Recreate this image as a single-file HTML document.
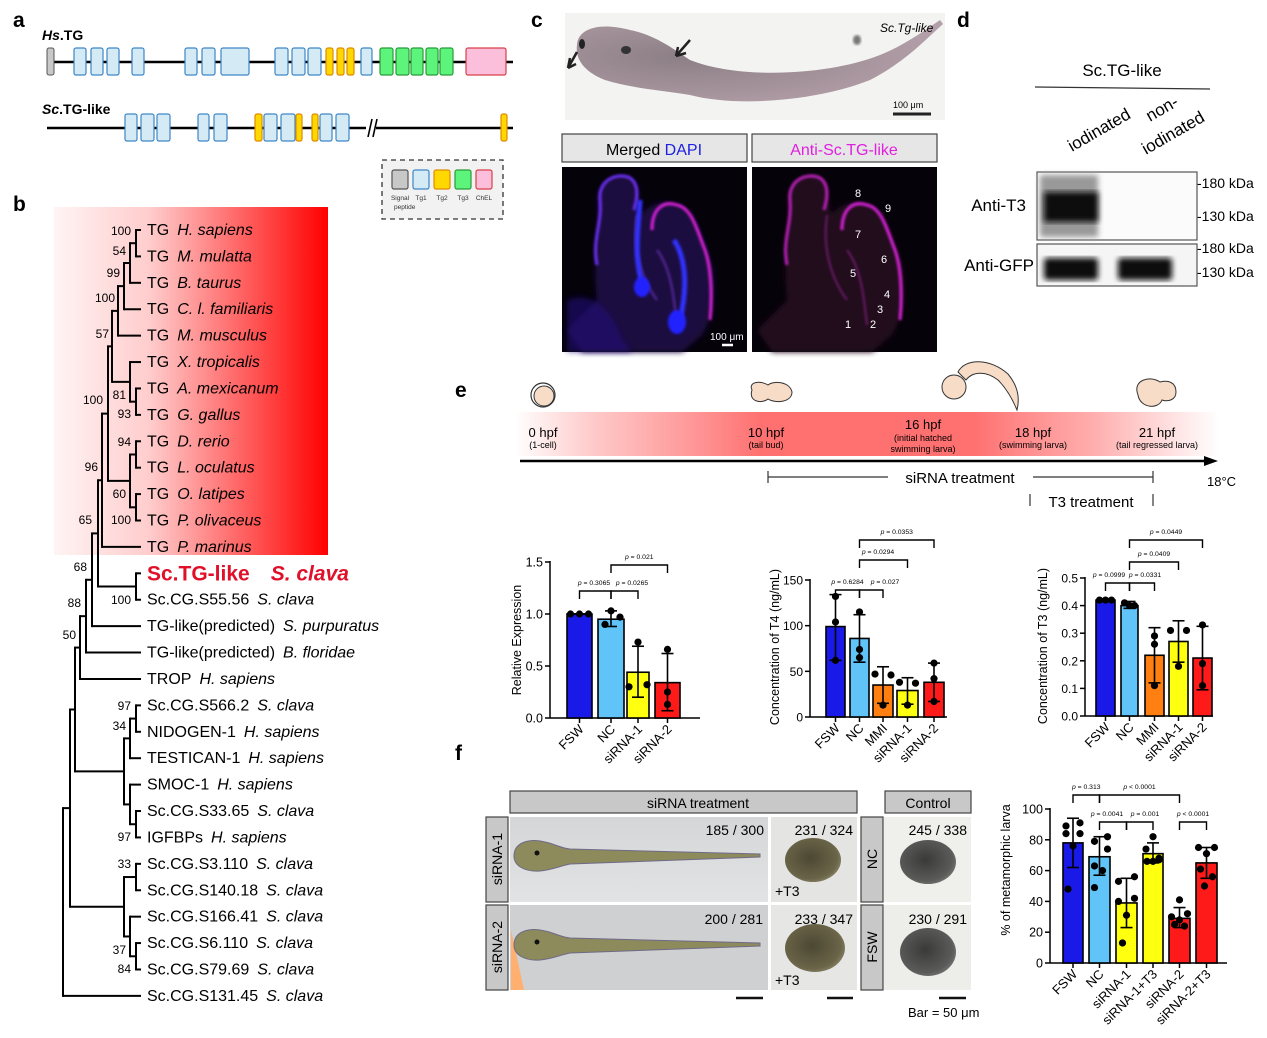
<!DOCTYPE html>
<html><head><meta charset="utf-8">
<style>
html,body{margin:0;padding:0;background:#fff;}
svg{display:block;font-family:"Liberation Sans",Arial,sans-serif;}
</style></head>
<body>
<svg id="s" width="1267" height="1038" viewBox="0 0 1267 1038" xmlns="http://www.w3.org/2000/svg">
<defs>
<linearGradient id="redg" x1="0" x2="1" y1="0" y2="0">
<stop offset="0" stop-color="#fff4f4"/><stop offset="0.35" stop-color="#ffcccc"/><stop offset="1" stop-color="#ff0000"/></linearGradient>
<linearGradient id="tl" x1="0" x2="1" y1="0" y2="0">
<stop offset="0" stop-color="#ff7878" stop-opacity="0"/><stop offset="0.12" stop-color="#ff8080" stop-opacity="0.45"/><stop offset="0.35" stop-color="#ff7070"/><stop offset="0.65" stop-color="#ff7070"/><stop offset="0.82" stop-color="#ff8a8a" stop-opacity="0.7"/><stop offset="1" stop-color="#ff9090" stop-opacity="0"/></linearGradient>
<radialGradient id="larv" cx="0.3" cy="0.45" r="0.7"><stop offset="0" stop-color="#7a6a72"/><stop offset="1" stop-color="#a8909c"/></radialGradient>
<linearGradient id="bg1" x1="0" x2="0" y1="0" y2="1"><stop offset="0" stop-color="#d4d6d8"/><stop offset="1" stop-color="#e2e3e4"/></linearGradient>
<radialGradient id="eggc" cx="0.45" cy="0.45" r="0.6"><stop offset="0" stop-color="#4c4832"/><stop offset="0.8" stop-color="#6a6448"/><stop offset="1" stop-color="#8a8468"/></radialGradient>
<radialGradient id="eggd" cx="0.45" cy="0.45" r="0.6"><stop offset="0" stop-color="#3a3a3a"/><stop offset="0.8" stop-color="#5a5a58"/><stop offset="1" stop-color="#777"/></radialGradient>
<filter id="bl"><feGaussianBlur stdDeviation="1.2"/></filter>
<filter id="bl3"><feGaussianBlur stdDeviation="3"/></filter>
</defs>
<g id="root"></g>
</svg>
<script>
const NS="http://www.w3.org/2000/svg";
const R=document.getElementById('root');
function el(t,a,txt){const e=document.createElementNS(NS,t);for(const k in a)e.setAttribute(k,a[k]);if(txt!==undefined)e.textContent=txt;R.appendChild(e);return e;}
function rect(x,y,w,h,f,s,sw,rx){return el('rect',{x,y,width:w,height:h,fill:f,stroke:s||'none','stroke-width':sw||1,rx:rx||0});}
function line(x1,y1,x2,y2,s,w){return el('line',{x1,y1,x2,y2,stroke:s||'#000','stroke-width':w||1});}
function text(x,y,t,sz,o){o=o||{};const a={x,y,'font-size':sz,fill:o.fill||'#000'};if(o.anchor)a['text-anchor']=o.anchor;if(o.bold)a['font-weight']='bold';if(o.it)a['font-style']='italic';if(o.tr)a.transform=o.tr;return el('text',a,t);}
function mtext(x,y,parts,sz,o){o=o||{};const a={x,y,'font-size':sz};if(o.anchor)a['text-anchor']=o.anchor;if(o.tr)a.transform=o.tr;const t=el('text',a);for(const p of parts){const s=document.createElementNS(NS,'tspan');s.textContent=p[0];if(p[1])for(const k in p[1])s.setAttribute(k,p[1][k]);t.appendChild(s);}return t;}

// ---------- panel labels
text(13,27,'a',21,{bold:1});text(13,211,'b',21,{bold:1});text(531,27,'c',21,{bold:1});
text(957,27,'d',21,{bold:1});text(455,397,'e',21,{bold:1});text(455,760,'f',21,{bold:1});

// ---------- panel a
mtext(42,40,[['Hs',{'font-style':'italic'}],['.TG']],14,{}).setAttribute('font-weight','bold');
line(47,62,513,62,'#000',2.5);
rect(47,48,7,27,'#c8c8c8','#555',1,2);
const bl=[[74,86],[91,103],[107,119],[132,144],[185,197],[202,215],[221,249],[275,288],[292,305],[308,321],[361,372]];
bl.forEach(b=>rect(b[0],48,b[1]-b[0],27,'#d4ebf6','#3d86c6',1.2,2));
[[326,333],[337,344],[347,354]].forEach(b=>rect(b[0],48,b[1]-b[0],27,'#ffd800','#e08a00',1.2,2));
[[380,393],[396,409],[411,423],[426,438],[440,453]].forEach(b=>rect(b[0],48,b[1]-b[0],27,'#5cf47a','#2a9a3a',1.2,2));
rect(466,48,40,27,'#fbbfdc','#d8404a',1.2,2);
mtext(42,114,[['Sc',{'font-style':'italic'}],['.TG-like']],14,{}).setAttribute('font-weight','bold');
line(47,128,366,128,'#000',2.5);line(376,128,513,128,'#000',2.5);
line(368,137,372,119,'#000',1.6);line(373,137,377,119,'#000',1.6);
[[125,137],[141,154],[157,170],[198,209],[214,227],[264,277],[281,295],[320,332],[336,349]].forEach(b=>rect(b[0],114,b[1]-b[0],27,'#d4ebf6','#3d86c6',1.2,2));
[[255,262],[296,302],[312,318],[501,507]].forEach(b=>rect(b[0],114,b[1]-b[0],27,'#ffd800','#e08a00',1.2,2));
el('rect',{x:382,y:160,width:121,height:59,fill:'#f2f2f2',stroke:'#333','stroke-width':1.3,'stroke-dasharray':'5,4'});
[['#c8c8c8','#555'],['#d4ebf6','#3d86c6'],['#ffd800','#e08a00'],['#5cf47a','#2a9a3a'],['#fbbfdc','#d8404a']].forEach((c,i)=>rect(392+i*21,170,16,19,c[0],c[1],1.2,2));
['Signal','Tg1','Tg2','Tg3','ChEL'].forEach((t,i)=>text(400+i*21,200,t,6.5,{anchor:'middle',fill:'#333'}));
text(394,209,'peptide',6.5,{fill:'#333'});

// ---------- panel b tree
rect(54,207,274,348,'url(#redg)');
const Y=i=>230+26.41*i, TIP=141;
function N(x,c){return {x,c};}
const nHM=N(136,[0,1]),nHMB=N(130,[nHM,2]),nHMBC=N(124,[nHMB,3]),nMam=N(118,[nHMBC,4]);
const nAG=N(136,[6,7]),nXAG=N(130,[5,nAG]),nTet=N(112,[nMam,nXAG]);
const nDL=N(136,[8,9]),nOP=N(136,[10,11]),nFish=N(130,[nDL,nOP]);
const nGn=N(108,[nTet,nFish]),nVert=N(102,[nGn,12]),nSc=N(136,[13,14]);
const nA=N(98,[nVert,nSc]),nB=N(92,[nA,15]),nC=N(86,[nB,16]),nD=N(80,[nC,17]);
const nSN=N(136,[18,19]),nSNT=N(130,[nSN,20]),nSI=N(136,[22,23]),nSSI=N(130,[21,nSI]),nG2=N(124,[nSNT,nSSI]);
const nE=N(75,[nD,nG2]);
const n31=N(136,[24,25]),n67=N(136,[27,28]),n167=N(130,[26,n67]),nG3=N(124,[n31,n167]);
const nF=N(70,[nE,nG3]),nRoot=N(63,[nF,29]);
function draw(n){ if(typeof n==='number') return {x:TIP,y:Y(n)};
 const cs=n.c.map(draw);const ys=cs.map(c=>c.y);const y1=Math.min(...ys),y2=Math.max(...ys);
 el('line',{x1:n.x,y1:y1-1,x2:n.x,y2:y2+1,stroke:'#000','stroke-width':2});
 cs.forEach(c=>el('line',{x1:n.x,y1:c.y,x2:c.x,y2:c.y,stroke:'#000','stroke-width':2}));
 return {x:n.x,y:(y1+y2)/2};}
draw(nRoot);
const leaves=[['TG','H. sapiens'],['TG','M. mulatta'],['TG','B. taurus'],['TG','C. l. familiaris'],['TG','M. musculus'],['TG','X. tropicalis'],['TG','A. mexicanum'],['TG','G. gallus'],['TG','D. rerio'],['TG','L. oculatus'],['TG','O. latipes'],['TG','P. olivaceus'],['TG','P. marinus'],null,['Sc.CG.S55.56','S. clava'],['TG-like(predicted)','S. purpuratus'],['TG-like(predicted)','B. floridae'],['TROP','H. sapiens'],['Sc.CG.S566.2','S. clava'],['NIDOGEN-1','H. sapiens'],['TESTICAN-1','H. sapiens'],['SMOC-1','H. sapiens'],['Sc.CG.S33.65','S. clava'],['IGFBPs','H. sapiens'],['Sc.CG.S3.110','S. clava'],['Sc.CG.S140.18','S. clava'],['Sc.CG.S166.41','S. clava'],['Sc.CG.S6.110','S. clava'],['Sc.CG.S79.69','S. clava'],['Sc.CG.S131.45','S. clava']];
leaves.forEach((l,i)=>{ if(!l)return; mtext(147,Y(i)+5,[[l[0]+'\u2002'],[l[1],{'font-style':'italic'}]],16,{}); });
mtext(147,Y(13)+7,[['Sc.TG-like\u2002\u2002'],['S. clava',{'font-style':'italic'}]],21,{}).setAttribute('fill','#e0102a');
R.lastChild.setAttribute('font-weight','bold');
[['100',131,235],['54',126,255],['99',120,277],['100',115,302],['57',109,338],['81',126,399],['100',103,404],['93',131,418],['94',131,446],['96',98,471],['60',126,498],['100',131,524],['65',92,524],['68',87,571],['100',131,604],['88',81,607],['50',76,639],['97',131,710],['34',126,730],['97',131,841],['33',131,868],['37',126,954],['84',131,973]].forEach(b=>text(b[1],b[2],b[0],12,{anchor:'end'}));

// ---------- panel c
rect(565,13,380,107,'#f3f3f1');
el('path',{d:'M577,45 C578,28 600,22 630,30 C655,35 672,48 690,60 C740,80 830,75 880,55 C905,45 925,30 940,20 L943,24 C925,40 905,62 870,80 C820,100 740,108 690,95 C660,90 630,88 605,80 C585,72 575,60 577,45 Z',fill:'url(#larv)',opacity:0.85});
el('ellipse',{cx:626,cy:50,rx:5,ry:4,fill:'#333'});
el('ellipse',{cx:582,cy:44,rx:3,ry:5,fill:'#222'});
el('path',{d:'M568,68 L577,52 M568,68 L570,58 M568,68 L576,64',stroke:'#222','stroke-width':2.5,fill:'none'});
el('path',{d:'M690,40 L676,56 M676,56 L686,53 M676,56 L678,47',stroke:'#222','stroke-width':2.5,fill:'none'});
text(880,32,'Sc.Tg-like',12,{it:1});
el('ellipse',{cx:857,cy:40,rx:4,ry:5,fill:'#777',filter:'url(#bl)'});
text(893,108,'100 μm',9);line(893,114,931,114,'#222',3);
rect(562,134,185,28,'#e6e6e6','#444',1.2);rect(752,134,185,28,'#e6e6e6','#444',1.2);
mtext(654,155,[['Merged '],['DAPI',{fill:'#2020e0'}]],16,{anchor:'middle'});
text(844,155,'Anti-Sc.TG-like',16,{anchor:'middle',fill:'#e020e0'});
rect(562,167,185,185,'#05020a');rect(752,167,185,185,'#05020a');
function tissue(ox,blue){
 const fillc=blue?'#1c0c40':'#22081f';
 el('path',{d:`M${ox+35},300 C${ox+30},260 ${ox+38},230 ${ox+36},205 C${ox+34},180 ${ox+55},172 ${ox+68},178 C${ox+80},185 ${ox+75},205 ${ox+80},215 C${ox+85},205 ${ox+100},200 ${ox+115},205 C${ox+135},212 ${ox+140},240 ${ox+150},265 C${ox+155},290 ${ox+150},320 ${ox+140},335 L${ox+120},352 L${ox+20},352 L${ox+5},330 Z`,fill:fillc,filter:'url(#bl3)'});
 const o=`M${ox+35},265 C${ox+30},240 ${ox+40},225 ${ox+38},200 C${ox+36},180 ${ox+55},172 ${ox+68},178 C${ox+78},185 ${ox+75},200 ${ox+72},210`;
 el('path',{d:o,fill:'none',stroke:blue?'#7030ff':'#c020c0','stroke-width':3,filter:'url(#bl)'});
 el('path',{d:`M${ox+90},230 C${ox+90},210 ${ox+100},200 ${ox+115},205 C${ox+130},208 ${ox+135},230 ${ox+143},250 C${ox+150},270 ${ox+150},300 ${ox+148},320`,fill:'none',stroke:'#e020e0','stroke-width':3,filter:'url(#bl)'});
 el('path',{d:`M${ox+75},215 C${ox+70},250 ${ox+80},280 ${ox+95},300 M${ox+95},250 C${ox+110},270 ${ox+112},300 ${ox+115},325`,fill:'none',stroke:blue?'#5a2aa0':'#6a1a6a','stroke-width':2,filter:'url(#bl)'});
 if(blue){el('path',{d:`M${ox+78},200 C${ox+75},240 ${ox+72},260 ${ox+82},290 M${ox+112},240 C${ox+125},260 ${ox+125},290 ${ox+118},320`,fill:'none',stroke:'#3030ff','stroke-width':5,filter:'url(#bl)'});
  el('ellipse',{cx:ox+115,cy:322,rx:9,ry:12,fill:'#2020ff',filter:'url(#bl)'});el('ellipse',{cx:ox+80,cy:287,rx:8,ry:10,fill:'#2020ff',filter:'url(#bl)'});
  el('path',{d:`M${ox+5},300 C${ox+30},290 ${ox+50},310 ${ox+60},340 L${ox+70},352 L${ox+5},352 Z`,fill:'#20107a',opacity:0.6,filter:'url(#bl3)'});}
}
tissue(562,true);tissue(752,false);
text(710,340,'100 μm',10,{fill:'#fff'});line(722,345,733,345,'#fff',2.5);
[['8',858,197],['9',888,212],['7',858,238],['6',884,263],['5',853,277],['4',887,298],['3',880,313],['2',873,328],['1',848,328]].forEach(n=>text(n[1],n[2],n[0],11,{anchor:'middle',fill:'#fff'}));

// ---------- panel d
text(1122,76,'Sc.TG-like',17,{anchor:'middle'});line(1035,87,1210,89,'#333',1.2);
text(1072,152,'iodinated',17,{tr:'rotate(-30 1072 152)'});
text(1150,122,'non-',17,{tr:'rotate(-30 1150 122)'});
text(1146,155,'iodinated',17,{tr:'rotate(-30 1146 155)'});
rect(1037,172,160,68,'#fbfbfb','#555',1.2);
el('rect',{x:1040,y:175,width:58,height:62,fill:'#999',filter:'url(#bl3)'});
el('rect',{x:1044,y:192,width:54,height:30,fill:'#111',filter:'url(#bl3)'});
rect(1037,244,160,42,'#f5f5f5','#555',1.2);
el('rect',{x:1044,y:258,width:54,height:22,fill:'#111',filter:'url(#bl3)',rx:3});
el('rect',{x:1118,y:258,width:54,height:22,fill:'#111',filter:'url(#bl3)',rx:3});
text(1026,211,'Anti-T3',17,{anchor:'end'});text(1034,271,'Anti-GFP',17,{anchor:'end'});
[['-180 kDa',188],['-130 kDa',221],['-180 kDa',253],['-130 kDa',277]].forEach(k=>text(1197,k[1],k[0],14));

// ---------- panel e timeline
rect(515,412,705,44,'url(#tl)');
el('path',{d:'M520,461 L1207,461',stroke:'#000','stroke-width':2.5});
el('path',{d:'M1218,461 L1204,456 L1204,466 Z',fill:'#000'});
el('circle',{cx:543,cy:395,r:12,fill:'#fff',stroke:'#333','stroke-width':1.2});
el('circle',{cx:544,cy:396,r:10,fill:'#f7dcc8',stroke:'#333','stroke-width':1});
el('path',{d:'M752,390 C748,382 760,380 768,385 C774,380 790,382 792,392 C792,402 776,404 768,399 C762,404 748,402 752,390 Z',fill:'#f7dcc8',stroke:'#333','stroke-width':1});
el('path',{d:'M958,372 C965,358 990,358 1008,374 C1018,386 1020,398 1017,410 C1012,398 1006,388 998,380 C985,370 972,372 966,380 Z',fill:'#f7dcc8',stroke:'#333','stroke-width':1});
el('ellipse',{cx:954,cy:387,rx:12,ry:12,fill:'#f7dcc8',stroke:'#333','stroke-width':1});
el('path',{d:'M1138,395 C1132,380 1150,375 1160,382 C1168,380 1176,382 1176,392 C1176,400 1168,402 1162,400 C1158,410 1140,408 1138,395 Z',fill:'#f7dcc8',stroke:'#333','stroke-width':1});
[[543,'0 hpf','(1-cell)'],[766,'10 hpf','(tail bud)'],[1033,'18 hpf','(swimming larva)'],[1157,'21 hpf','(tail regressed larva)']].forEach(t=>{text(t[0],437,t[1],13,{anchor:'middle'});text(t[0],448,t[2],9,{anchor:'middle'});});
text(923,429,'16 hpf',13,{anchor:'middle'});text(923,441,'(initial hatched',9,{anchor:'middle'});text(923,452,'swimming larva)',9,{anchor:'middle'});
line(768,477,888,477,'#333',1.2);line(1033,477,1153,477,'#333',1.2);line(768,471,768,483,'#333',1.2);line(1153,471,1153,483,'#333',1.2);
text(960,483,'siRNA treatment',15,{anchor:'middle'});text(1207,486,'18°C',13);
line(1030,494,1030,506,'#333',1.2);line(1153,494,1153,506,'#333',1.2);text(1091,507,'T3 treatment',15,{anchor:'middle'});

// ---------- charts
function chart(c){
 const py=v=>c.y0-(v/c.max)*(c.y0-c.yTop);
 line(c.ax,c.yTop-1,c.ax,c.y0,'#000',1.5);line(c.ax,c.y0,c.ax2,c.y0,'#000',1.5);
 c.ticks.forEach(t=>{line(c.ax-5,py(t[0]),c.ax,py(t[0]),'#000',1.5);text(c.ax-7,py(t[0])+4.5,t[1],c.tsz||12.5,{anchor:'end'});});
 c.bars.forEach(b=>{const cx=(b.x1+b.x2)/2;
  rect(b.x1,py(b.v),b.x2-b.x1,c.y0-py(b.v),b.c,'#000',1.6);
  line(cx,py(b.hi),cx,py(b.lo),'#000',1.6);line(cx-6,py(b.hi),cx+6,py(b.hi),'#000',1.6);line(cx-6,py(b.lo),cx+6,py(b.lo),'#000',1.6);
  line(cx,c.y0,cx,c.y0+5,'#000',1.5);
  (b.d||[]).forEach(d=>el('circle',{cx:cx+d[0],cy:py(d[1]),r:3.6,fill:'#000'}));
  text(cx+5,c.y0+12,b.l,13,{anchor:'end',tr:'rotate(-45 '+(cx+5)+' '+(c.y0+12)+')'});
 });
 const bc=i=>(c.bars[i].x1+c.bars[i].x2)/2;
 c.br.forEach(r=>{const x1=bc(r[0]),x2=bc(r[1]),y=r[2];
  el('path',{d:`M${x1},${y+8} L${x1},${y} L${x2},${y} L${x2},${y+8}`,fill:'none',stroke:'#000','stroke-width':1.4});
  mtext(r[4]!==undefined?r[4]:(x1+x2)/2,y-6,[['p',{'font-style':'italic'}],[' '+r[3]]],6.8,{anchor:'middle'});});
 text(c.lx,c.ly,c.ylab,12.5,{anchor:'middle',tr:'rotate(-90 '+c.lx+' '+c.ly+')'});
}
const B='#1a1ae8',LB='#60c4f8',YE='#ffff10',RE='#ff1a1a',OR='#ff8010';
chart({ax:550,ax2:700,y0:718,yTop:562,max:1.5,ticks:[[0,'0.0'],[0.5,'0.5'],[1,'1.0'],[1.5,'1.5']],lx:521,ly:640,ylab:'Relative Expression',
 bars:[{x1:567,x2:592,v:1.0,lo:1,hi:1,c:B,l:'FSW',d:[[-9,1],[0,1],[9,1]]},{x1:598,x2:624,v:0.95,lo:0.88,hi:1.03,c:LB,l:'NC',d:[[-6,0.9],[0,1.03],[9,0.97]]},
 {x1:627,x2:649,v:0.44,lo:0.2,hi:0.69,c:YE,l:'siRNA-1',d:[[-9,0.3],[0,0.73],[9,0.32]]},{x1:655,x2:680,v:0.34,lo:0.07,hi:0.62,c:RE,l:'siRNA-2',d:[[0,0.66],[0,0.25],[0,0.13]]}],
 br:[[0,1,591,'= 0.3065',594],[1,2,591,'= 0.0265',632],[1,3,565,'= 0.021']]});
chart({ax:810,ax2:947,y0:717,yTop:580,max:150,tsz:12,ticks:[[0,'0'],[50,'50'],[100,'100'],[150,'150']],lx:779,ly:647,ylab:'Concentration of T4 (ng/mL)',
 bars:[{x1:826,x2:845,v:99,lo:62,hi:134,c:B,l:'FSW',d:[[0,132],[0,104],[0,62]]},{x1:850,x2:869,v:86,lo:60,hi:112,c:LB,l:'NC',d:[[0,115],[0,74],[0,65]]},
 {x1:873,x2:893,v:35,lo:15,hi:55,c:OR,l:'MMI',d:[[-8,47],[8,46],[0,13]]},{x1:897,x2:918,v:29,lo:14,hi:43,c:YE,l:'siRNA-1',d:[[-8,38],[8,37],[0,13]]},{x1:924,x2:944,v:38,lo:17,hi:59,c:RE,l:'siRNA-2',d:[[0,59],[0,42],[0,17]]}],
 br:[[0,1,590,'= 0.6284'],[1,2,590,'= 0.027',885],[1,3,560,'= 0.0294',878],[1,4,540,'= 0.0353']]});
chart({ax:1085,ax2:1213,y0:716,yTop:578,max:0.5,tsz:12,ticks:[[0,'0.0'],[0.1,'0.1'],[0.2,'0.2'],[0.3,'0.3'],[0.4,'0.4'],[0.5,'0.5']],lx:1047,ly:646,ylab:'Concentration of T3 (ng/mL)',
 bars:[{x1:1096,x2:1115,v:0.42,lo:0.42,hi:0.42,c:B,l:'FSW',d:[[-6,0.42],[0,0.42],[6,0.42]]},{x1:1121,x2:1138,v:0.40,lo:0.39,hi:0.415,c:LB,l:'NC',d:[[-5,0.41],[0,0.4],[5,0.4]]},
 {x1:1145,x2:1164,v:0.22,lo:0.12,hi:0.32,c:OR,l:'MMI',d:[[0,0.29],[0,0.26],[0,0.11]]},{x1:1169,x2:1188,v:0.27,lo:0.195,hi:0.345,c:YE,l:'siRNA-1',d:[[-8,0.31],[8,0.31],[0,0.18]]},{x1:1193,x2:1212,v:0.21,lo:0.095,hi:0.325,c:RE,l:'siRNA-2',d:[[0,0.33],[0,0.19],[0,0.11]]}],
 br:[[0,1,583,'= 0.0999',1109],[1,2,583,'= 0.0331',1145],[1,3,562,'= 0.0409'],[1,4,540,'= 0.0449']]});
chart({ax:1050,ax2:1227,y0:963,yTop:809,max:100,ticks:[[0,'0'],[20,'20'],[40,'40'],[60,'60'],[80,'80'],[100,'100']],lx:1010,ly:870,ylab:'% of metamorphic larva',
 bars:[{x1:1063,x2:1083,v:78,lo:62,hi:94,c:B,l:'FSW',d:[[-7,89],[7,91],[-7,84],[7,84],[0,76],[-5,48]]},{x1:1089,x2:1110,v:69,lo:57,hi:82,c:LB,l:'NC',d:[[-5,79],[8,82],[8,74],[-5,63],[3,60],[-5,49]]},
 {x1:1116,x2:1137,v:39,lo:23,hi:55,c:YE,l:'siRNA-1',d:[[-8,53],[8,56],[-8,40],[8,42],[0,31],[-4,13]]},{x1:1143,x2:1163,v:71,lo:65,hi:78,c:YE,l:'siRNA-1+T3',d:[[0,82],[-7,74],[6,68],[0,66],[-6,66],[6,67]]},
 {x1:1169,x2:1190,v:29,lo:23,hi:36,c:RE,l:'siRNA-2',d:[[0,41],[-8,30],[8,32],[0,28],[-5,25],[5,24]]},{x1:1196,x2:1217,v:65,lo:55,hi:75,c:RE,l:'siRNA-2+T3',d:[[-8,75],[8,75],[0,71],[-6,61],[6,56],[-2,50]]}],
 br:[[0,1,795,'= 0.313'],[1,4,795,'< 0.0001'],[1,2,822,'= 0.0041',1107],[2,3,822,'= 0.001',1145],[4,5,822,'< 0.0001']]});

// ---------- panel f
rect(510,791,347,22,'#c8c8c8','#444',1.2);text(698,808,'siRNA treatment',14,{anchor:'middle'});
rect(885,791,86,22,'#c8c8c8','#444',1.2);text(928,808,'Control',14,{anchor:'middle'});
[[486,817,'siRNA-1'],[486,905,'siRNA-2'],[861,817,'NC'],[861,905,'FSW']].forEach(s=>{rect(s[0],s[1],22,85,'#c8c8c8','#444',1.2);text(s[0]+16,s[1]+42,s[2],14,{anchor:'middle',tr:'rotate(-90 '+(s[0]+16)+' '+(s[1]+42)+')'});});
rect(510,817,258,85,'url(#bg1)');rect(510,905,258,85,'#cfd0d2');
rect(771,817,86,85,'#e4e4e2');rect(771,905,86,85,'#e6e6e4');
rect(884,817,87,85,'#efefec');rect(884,905,87,85,'#ededea');
el('path',{d:'M511,990 L511,930 L524,990 Z',fill:'#ffb070'});
function worm(y){el('path',{d:`M514,${y} C514,${y-14} 530,${y-18} 545,${y-14} C555,${y-12} 560,${y-8} 570,${y-7} L760,${y-2} L760,${y+1} L570,${y+8} C560,${y+10} 552,${y+14} 540,${y+15} C525,${y+16} 514,${y+10} 514,${y} Z`,fill:'#8d8a5c',stroke:'#6f6a88','stroke-width':1});
 el('circle',{cx:537,cy:y-3,r:2.5,fill:'#111'});}
worm(856);worm(945);
el('ellipse',{cx:813,cy:860,rx:28,ry:22,fill:'url(#eggc)'});el('ellipse',{cx:815,cy:948,rx:30,ry:24,fill:'url(#eggc)'});
el('ellipse',{cx:928,cy:862,rx:28,ry:22,fill:'url(#eggd)'});el('ellipse',{cx:928,cy:952,rx:28,ry:24,fill:'url(#eggd)'});
[['185 / 300',767,832],['231 / 324',856,832],['245 / 338',970,832],['200 / 281',766,921],['233 / 347',856,921],['230 / 291',970,921]].forEach(t=>text(t[1]-3,t[2]+3,t[0],14,{anchor:'end'}));
text(775,896,'+T3',14);text(775,985,'+T3',14);
line(736,998,763,998,'#111',2.5);line(827,998,853,998,'#111',2.5);line(939,998,966,998,'#111',2.5);
text(908,1017,'Bar = 50 μm',13);
</script>
</body></html>
